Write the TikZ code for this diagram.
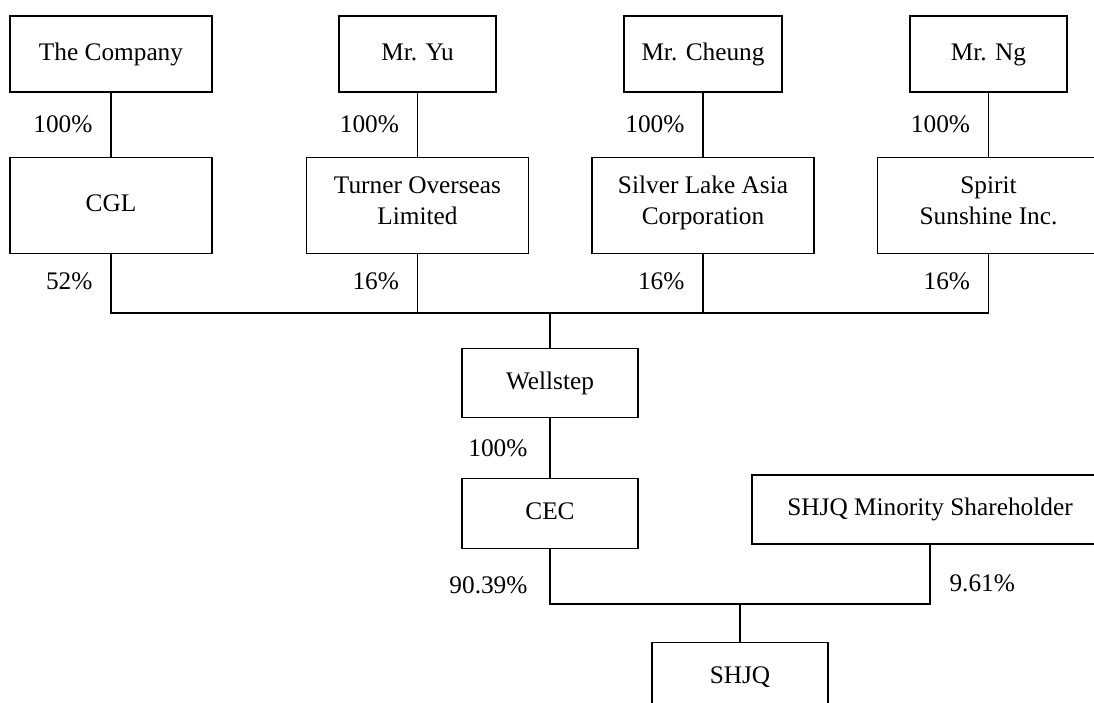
\documentclass[tikz,border=0pt]{standalone}
\usepackage{fontspec}
\setmainfont{Liberation Serif}
\usepackage{tikz}
\usetikzlibrary{positioning}

\begin{document}
\begin{tikzpicture}[
    line width=0.6pt,
    every node/.style={font=\fontsize{14.4}{17.6}\selectfont},
    box/.style={draw, minimum width=#1, minimum height=1.52cm, align=center, inner sep=2pt,
        execute at begin node=\strut, execute at end node=\strut},
    box/.default=3.14cm,
    pct/.style={inner sep=0, anchor=east}
]
\useasboundingbox (0,0) rectangle (21.88,-14.06);

% Shareholders (top row)
\node[box=4.04cm] (company) at (2.22,-1.08) {The Company};
\node[box] (yu) at (8.35,-1.08) {Mr. Yu};
\node[box=3.16cm] (cheung) at (14.06,-1.08) {Mr. Cheung};
\node[box] (ng) at (19.77,-1.08) {Mr. Ng};

% Holding vehicles
\node[box=4.04cm, minimum height=1.92cm, below=1.28cm of company] (cgl) {CGL};
\node[box=4.44cm, minimum height=1.92cm, below=1.28cm of yu] (turner) {Turner Overseas\\Limited};
\node[box=4.44cm, minimum height=1.92cm, below=1.28cm of cheung] (silver) {Silver Lake Asia\\Corporation};
\node[box=4.44cm, minimum height=1.92cm, below=1.28cm of ng] (spirit) {Spirit\\Sunshine Inc.};

% Links top row -> vehicles
\foreach \up/\down in {company/cgl, yu/turner, cheung/silver, ng/spirit} {
    \draw (\up.south) -- (\down.north);
    \node[pct] at ([xshift=-0.36cm, yshift=-0.64cm]\up.south) {100\%};
}

% Bus into Wellstep
\coordinate (topbus) at (11.0,-6.26);
\node[box=3.52cm, minimum height=1.38cm, below=0.7cm of topbus] (wellstep) {Wellstep};

\draw (cgl.south) |- (spirit.south |- topbus) -- (spirit.south);
\draw (turner.south) -- (turner.south |- topbus);
\draw (silver.south) -- (silver.south |- topbus);
\draw (topbus) -- (wellstep.north);

\node[pct] at ([xshift=-0.36cm, yshift=-0.56cm]cgl.south) {52\%};
\foreach \v in {turner, silver, spirit} {
    \node[pct] at ([xshift=-0.36cm, yshift=-0.56cm]\v.south) {16\%};
}

% CEC
\node[box=3.52cm, minimum height=1.4cm, below=1.2cm of wellstep] (cec) {CEC};
\draw (wellstep.south) -- (cec.north);
\node[pct] at ([xshift=-0.44cm, yshift=-0.6cm]wellstep.south) {100\%};

% Minority shareholder
\node[box=7.12cm, minimum height=1.38cm] (minority) at (18.6,-10.19) {SHJQ Minority Shareholder};

% Bus into SHJQ
\coordinate (lowbus) at (14.8,-12.08);
\node[box=3.52cm, minimum height=1.4cm, below=0.76cm of lowbus] (shjq) {SHJQ};

\draw (cec.south) |- (minority.south |- lowbus) -- (minority.south);
\draw (lowbus) -- (shjq.north);

\node[pct] at ([xshift=-0.44cm, yshift=-0.72cm]cec.south) {90.39\%};
\node[pct, anchor=west] at ([xshift=0.38cm, yshift=-0.78cm]minority.south) {9.61\%};

\end{tikzpicture}
\end{document}
